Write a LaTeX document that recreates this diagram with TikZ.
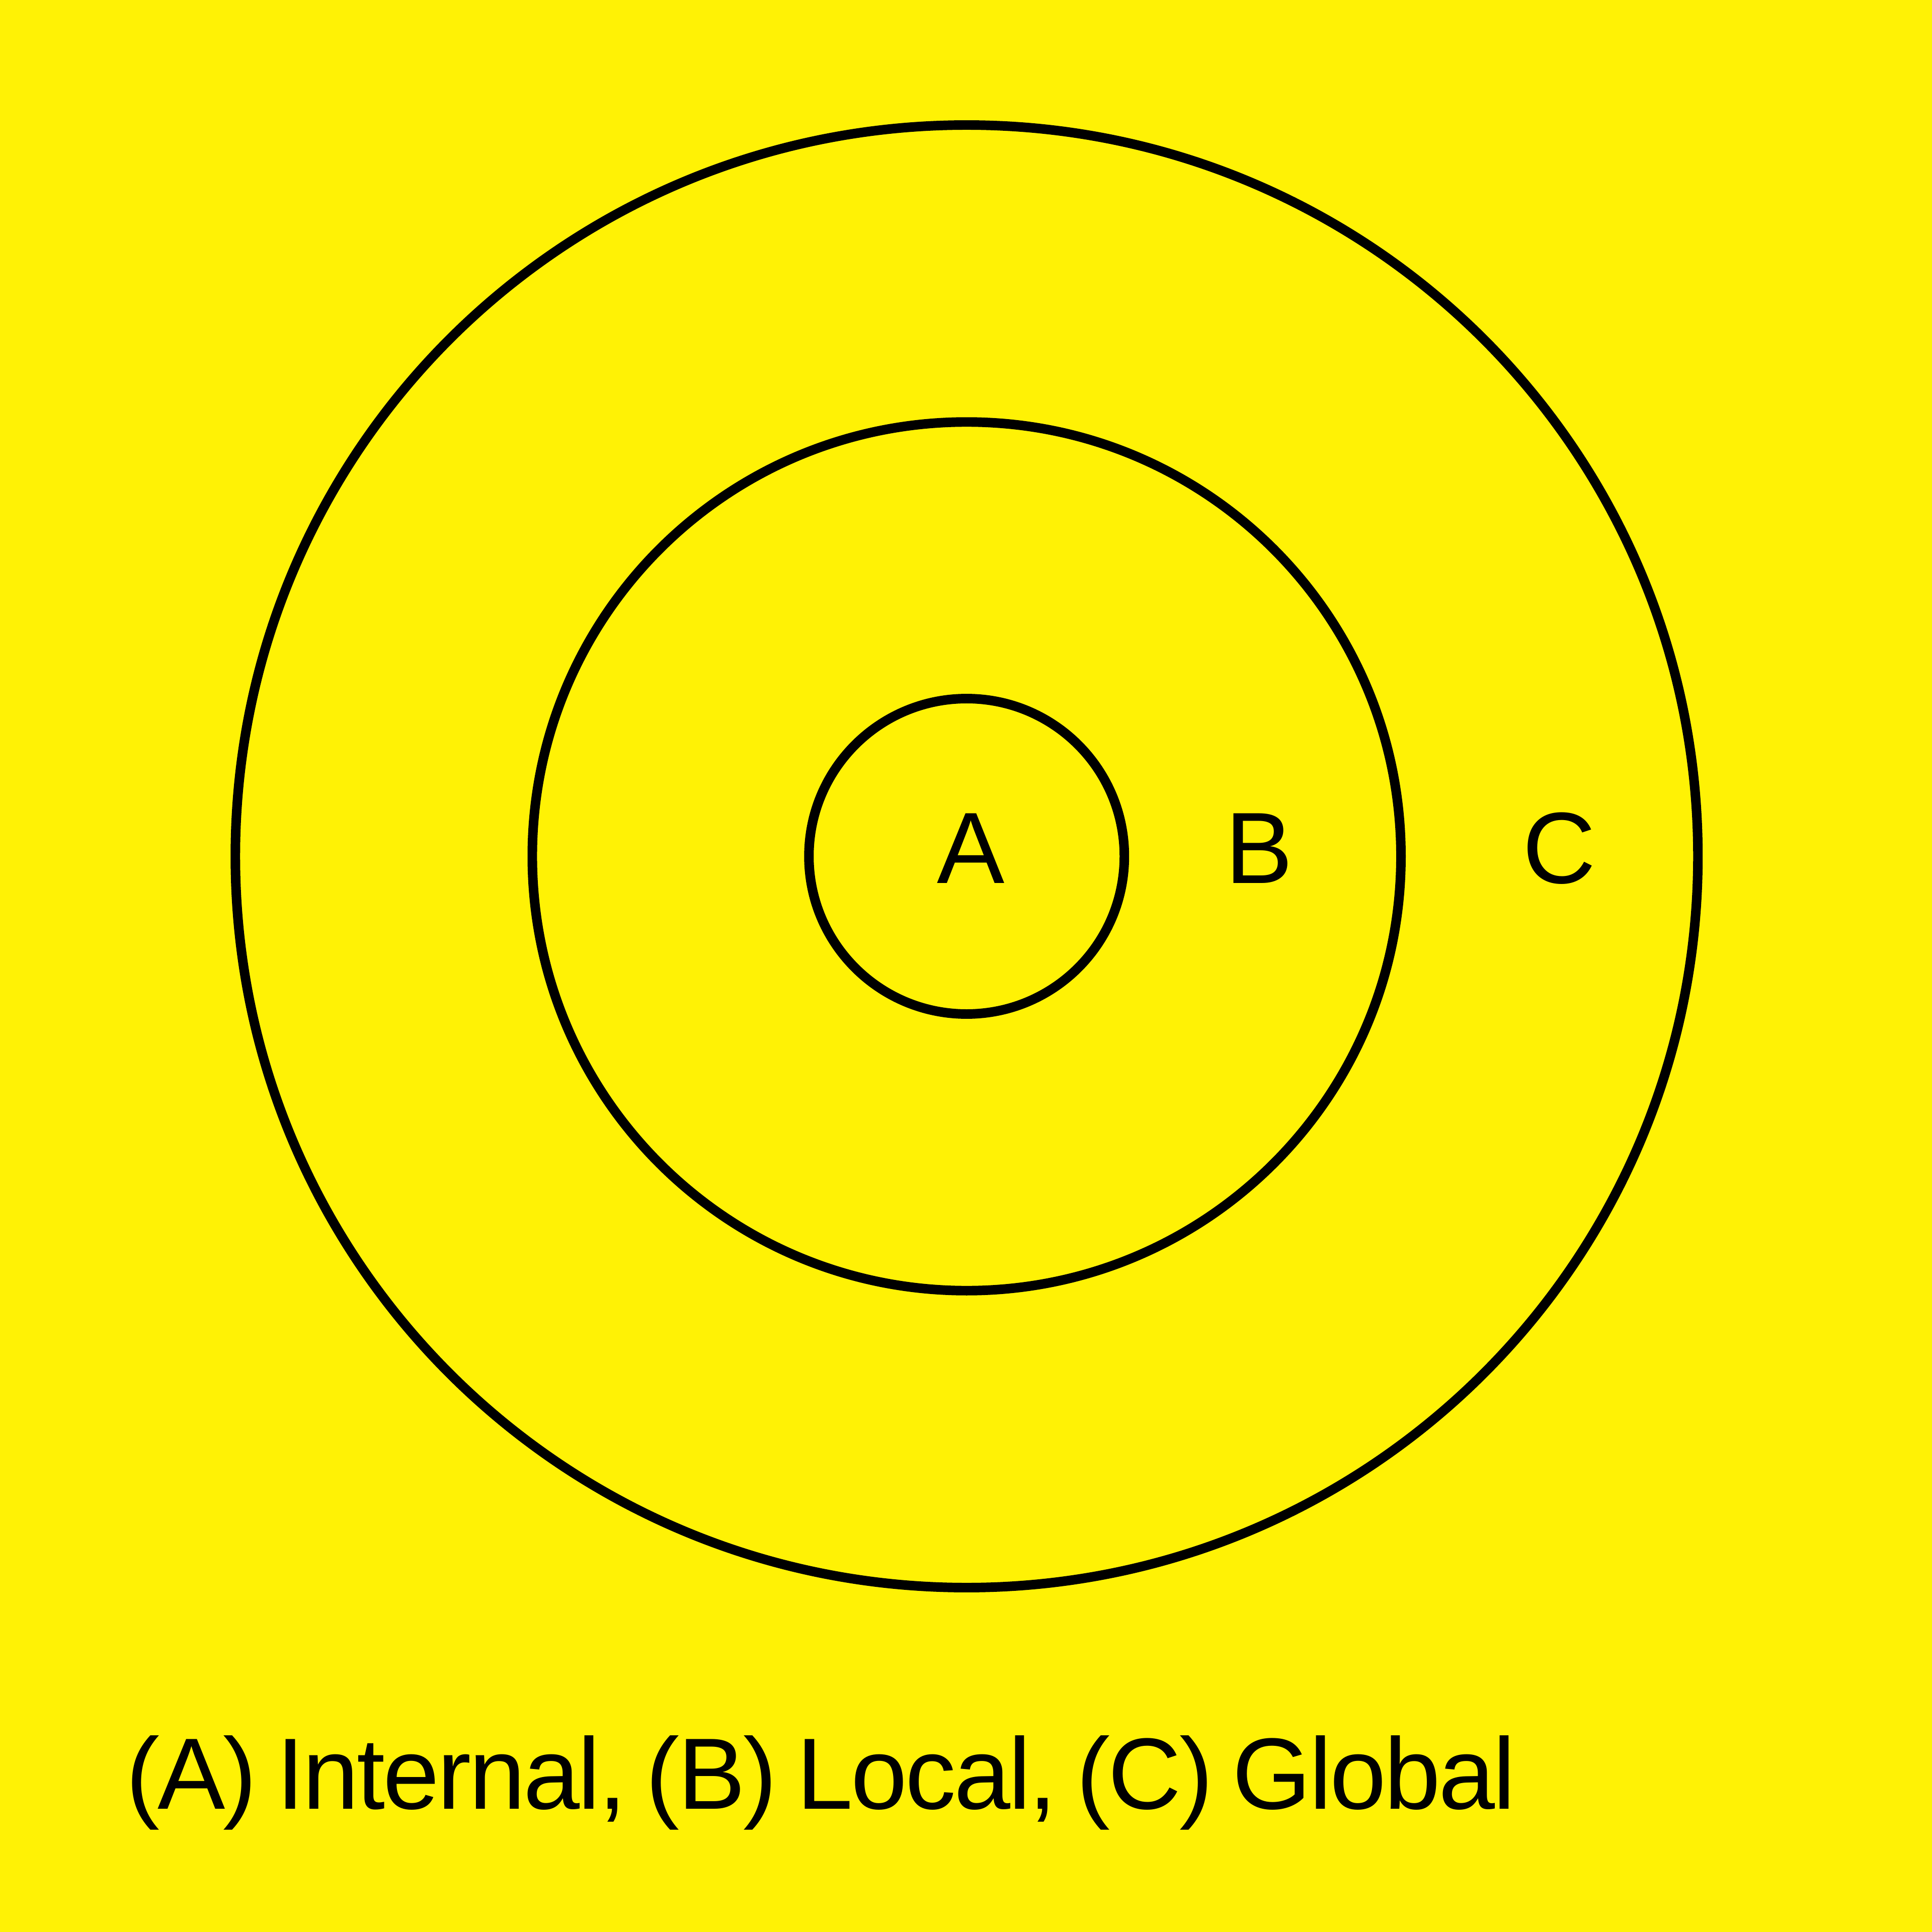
\documentclass[tikz,border=0pt]{standalone}
\usepackage{fontspec}
\setmainfont{Liberation Sans}
\newfontfamily\captionfont[LetterSpace=-2.0,WordSpace=0.75]{Liberation Sans}
\definecolor{bgyellow}{HTML}{FFF205}
\begin{document}
\begin{tikzpicture}[
  ring/.style={draw=black, line width=2.2pt, circle, inner sep=0pt},
  lbl/.style={font=\fontsize{23.4}{28}\selectfont, inner sep=0pt, anchor=base, text=black},
]
\fill[bgyellow] (0,0) rectangle (15.68,15.68);
\useasboundingbox (0,0) rectangle (15.68,15.68);
\coordinate (ctr) at (7.845,8.73);
\node[ring, minimum size=11.87cm] (outer) at (ctr) {};
\node[ring, minimum size=7.05cm] (middle) at (ctr) {};
\node[ring, minimum size=2.56cm] (inner) at (ctr) {};
\node[lbl] (la) at (7.88,8.51) {A};
\node[lbl] (lb) at (10.22,8.51) {B};
\node[lbl] (lc) at (12.655,8.51) {C};
\node[lbl, anchor=base west, font=\captionfont\fontsize{23.4}{28}\selectfont] (caption) at (1.015,1.00) {(A) Internal, (B) Local, (C) Global};
\end{tikzpicture}
\end{document}
